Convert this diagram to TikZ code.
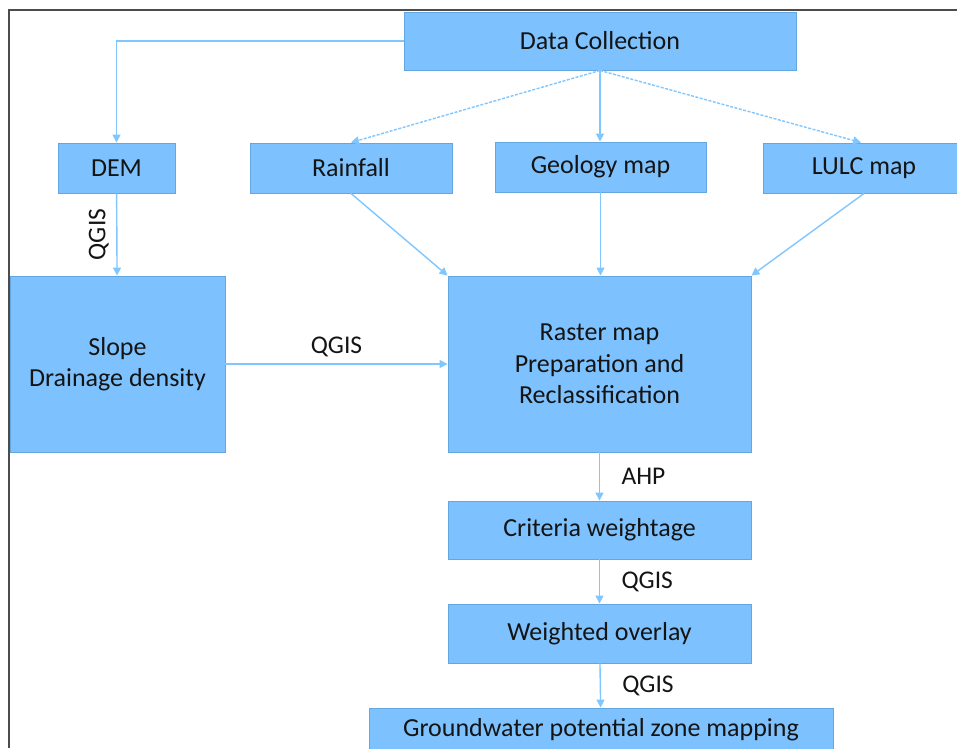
\documentclass[tikz,border=0pt]{standalone}
\usepackage{fontspec}
\setmainfont{Carlito}
\usetikzlibrary{arrows.meta}
\definecolor{boxblue}{RGB}{125,194,254}
\definecolor{edgeblue}{RGB}{100,166,222}
\definecolor{lineblue}{RGB}{128,198,255}
\definecolor{txt}{RGB}{20,20,20}
\tikzset{
	box/.style 2 args={rectangle,draw=edgeblue,fill=boxblue,line width=0.9pt,minimum width=#1,minimum height=#2,inner sep=0pt,align=center,text=txt,font=\fontsize{26}{31.5}\selectfont},
	arr/.style={draw=lineblue,line width=1.4pt,-{Triangle[length=8pt,width=8pt]}},
	darr/.style={arr,dash pattern=on 3pt off 1.5pt},
	lbl/.style={text=txt,font=\fontsize{25.5}{30}\selectfont,inner sep=0pt}
}
\begin{document}
\begin{tikzpicture}[x=1pt,y=-1pt]
	\clip (0,0) rectangle (957,748);
	\draw [gray!60!black,line width=1.2pt] (9,748) -- (9,10) -- (957,10);

	\node [box={392pt}{58pt}] (dc) at (600,41) {Data Collection};
	\node [box={117pt}{50pt}] (dem) at (116.5,168) {DEM};
	\node [box={202pt}{50pt}] (rain) at (351,168) {Rainfall};
	\node [box={211pt}{50pt}] (geo) at (600.5,167) {Geology map};
	\node [box={202pt}{50pt}] (lulc) at (864,168) {LULC map};
	\node [box={215pt}{176pt}] (slope) at (117.5,364) {Slope\\Drainage density};
	\node [box={303pt}{176pt}] (raster) at (599.5,364) {Raster map\\Preparation and\\Reclassification};
	\node [box={303pt}{58pt}] (crit) at (599.5,530) {Criteria weightage};
	\node [box={303pt}{59pt}] (wov) at (599.5,633.5) {Weighted overlay};
	\node [box={464pt}{44pt}] (gw) at (601,730) {Groundwater potential zone mapping};

	\draw [arr] (dc.west) -| (dem.north);
	\draw [darr] (dc.south) -- (rain.north);
	\draw [arr] (dc.south) -- (dc.south |- geo.north);
	\draw [darr] (dc.south) -- ([xshift=-3pt]lulc.north);

	\draw [arr] (dem) -- node [lbl,midway,rotate=90,anchor=south,outer sep=8pt] (q1) {QGIS} (slope);
	\draw [arr] (rain.south) -- (raster.north west);
	\draw [arr] (geo.south) -- (geo.south |- raster.north);
	\draw [arr] (lulc.south) -- (raster.north east);
	\draw [arr] (slope) -- node [lbl,midway,anchor=south,outer sep=7pt] (q2) {QGIS} (raster);

	\draw [arr] (raster) -- node [lbl,midway,anchor=west,outer sep=22pt] (ahp) {AHP} (crit);
	\draw [arr] (crit) -- node [lbl,midway,anchor=west,outer sep=22pt] (q3) {QGIS} (wov);
	\draw [arr] (wov) -- node [lbl,midway,anchor=west,outer sep=22pt] (q4) {QGIS} (gw);
\end{tikzpicture}
\end{document}
